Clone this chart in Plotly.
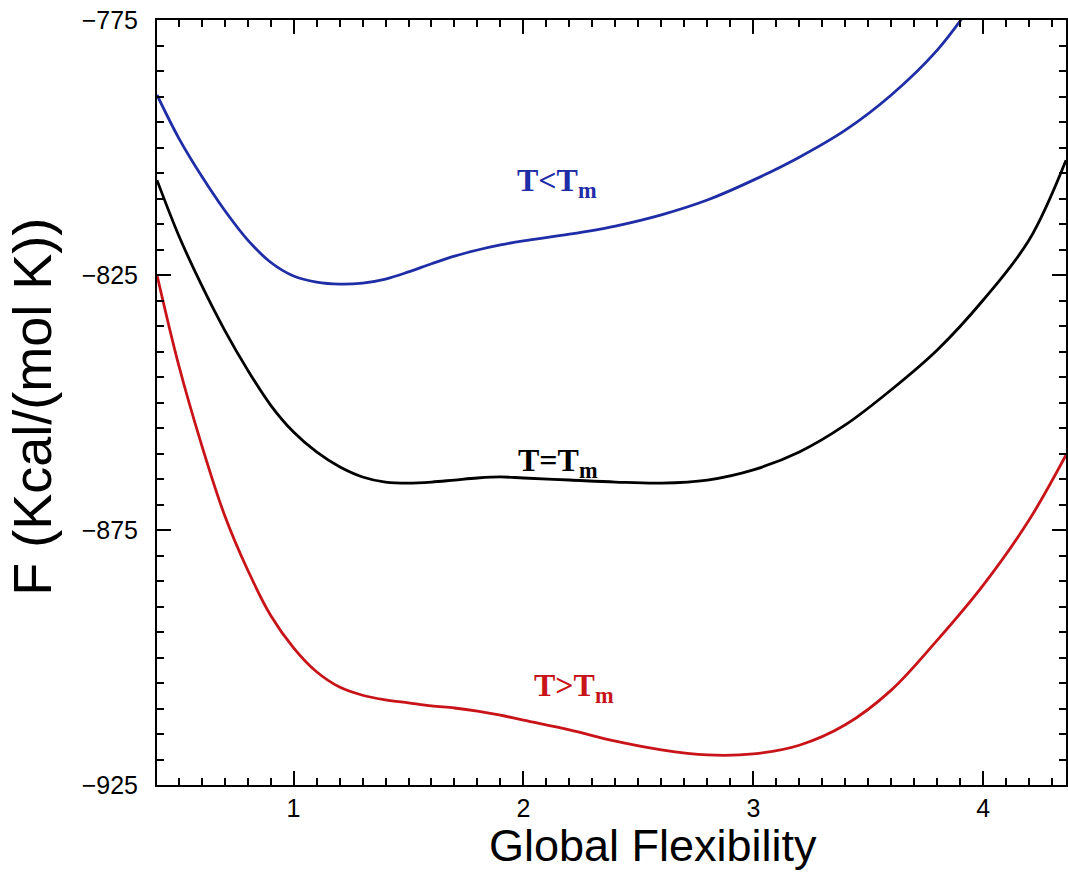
import plotly.graph_objects as go

x_blue = [0.406, 0.5, 0.6, 0.7, 0.8, 0.9, 1.0, 1.1, 1.2, 1.3, 1.4, 1.5, 1.6, 1.7, 1.8, 1.9, 2.0,
          2.2, 2.4, 2.6, 2.8, 3.0, 3.2, 3.4, 3.6, 3.8, 3.95]
y_blue = [-789.7, -798.1, -805.6, -812.3, -818.1, -822.5, -825.2, -826.4, -826.8, -826.6, -825.8,
          -824.4, -822.8, -821.3, -820.1, -819.1, -818.3, -817.0, -815.4, -813.2, -810.3, -806.4,
          -801.9, -796.6, -789.7, -780.9, -772.0]

x_black = [0.406, 0.5, 0.6, 0.7, 0.8, 0.9, 1.0, 1.1, 1.2, 1.3, 1.4, 1.5, 1.6, 1.7, 1.8, 1.9, 2.0,
           2.2, 2.4, 2.6, 2.8, 3.0, 3.2, 3.4, 3.6, 3.8, 4.0, 4.2, 4.36]
y_black = [-806.4, -817.2, -827.0, -835.8, -843.6, -850.5, -855.8, -859.7, -862.6, -864.6, -865.6,
           -865.8, -865.6, -865.2, -864.8, -864.6, -864.8, -865.2, -865.6, -865.8, -865.2, -863.2,
           -859.7, -854.4, -847.5, -839.7, -829.9, -818.1, -802.5]

x_red = [0.406, 0.5, 0.6, 0.7, 0.8, 0.9, 1.0, 1.1, 1.2, 1.3, 1.4, 1.5, 1.6, 1.7, 1.8, 1.9, 2.0,
         2.2, 2.4, 2.6, 2.8, 3.0, 3.2, 3.4, 3.6, 3.8, 4.0, 4.2, 4.36]
y_red = [-825.0, -842.6, -858.3, -872.1, -882.8, -891.7, -898.1, -902.8, -905.8, -907.4, -908.3,
         -908.9, -909.5, -909.9, -910.5, -911.3, -912.3, -914.2, -916.4, -918.1, -919.1, -918.9,
         -917.2, -913.2, -906.4, -896.6, -885.8, -873.0, -860.3]

x_ticks = [1, 2, 3, 4]
y_ticks = [-775, -825, -875, -925]

labels = ["T&lt;T<sub>m</sub>", "T=T<sub>m</sub>", "T&gt;T<sub>m</sub>"]
label_x = [2.145, 2.15, 2.22]
label_y = [-806.9, -861.8, -905.8]

x_title = "Global Flexibility"
y_title = "F (Kcal/(mol K))"

BLUE = "#1f2da6"
RED = "#c81418"

fig = go.Figure()
fig.add_trace(go.Scatter(x=x_blue, y=y_blue, mode="lines", line=dict(color=BLUE, width=2.8, shape="spline")))
fig.add_trace(go.Scatter(x=x_black, y=y_black, mode="lines", line=dict(color="black", width=2.8, shape="spline")))
fig.add_trace(go.Scatter(x=x_red, y=y_red, mode="lines", line=dict(color=RED, width=2.8, shape="spline")))

for t, xx, yy, c in zip(labels, label_x, label_y, [BLUE, "black", RED]):
    fig.add_annotation(x=xx, y=yy, text="<b>" + t + "</b>", showarrow=False,
                       font=dict(family="Liberation Serif", size=32, color=c))

# axis titles as annotations (the original plot is cropped on the right, so its x title sits right of the visible centre)
fig.add_annotation(x=0.5455, xref="paper", y=-0.0431, yref="paper", yanchor="top",
                   text=x_title, showarrow=False,
                   font=dict(family="Liberation Sans, Arial", size=45, color="black"))
fig.add_annotation(x=-0.137, xref="paper", xanchor="center", y=0.495, yref="paper", yanchor="middle",
                   text=y_title, textangle=-90, showarrow=False,
                   font=dict(family="Liberation Sans, Arial", size=54, color="black"))

axis_common = dict(
    showgrid=False, zeroline=False, showline=True, linecolor="black", linewidth=2,
    mirror="ticks", ticks="inside", ticklen=14, tickwidth=2, tickcolor="black",
    tickfont=dict(family="Liberation Sans, Arial", size=25, color="black"),
)

fig.update_xaxes(range=[0.406, 4.36], tickvals=x_ticks, ticktext=[str(v) for v in x_ticks],
                 minor=dict(dtick=0.1, tick0=0, ticks="inside", ticklen=7, tickwidth=2, tickcolor="black"),
                 **axis_common)
fig.update_yaxes(range=[-925, -775], tickvals=y_ticks, ticktext=["\u2212" + str(-v) for v in y_ticks],
                 minor=dict(dtick=5, tick0=0, ticks="inside", ticklen=7, tickwidth=2, tickcolor="black"),
                 ticklabelstandoff=12,
                 **axis_common)

fig.update_layout(width=1068, height=875, showlegend=False,
                  margin=dict(l=157, r=0, t=20, b=90),
                  plot_bgcolor="white", paper_bgcolor="white")

fig.write_html("out.html")
